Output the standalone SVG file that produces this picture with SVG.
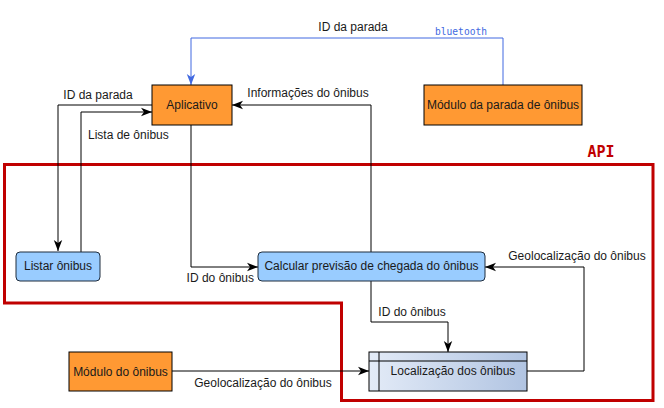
<svg xmlns="http://www.w3.org/2000/svg" width="664" height="408" viewBox="0 0 664 408">
<style>
text{font-family:"Liberation Sans",Arial,sans-serif;font-size:12px;fill:#1a1a1a}
.c{text-anchor:middle}
.e{text-anchor:end}
.org{fill:#FF9933;stroke:#000;stroke-width:1}
.blu{fill:#99CCFF;stroke:#1f2d3d;stroke-width:1}
.ln{fill:none;stroke:#000;stroke-width:1}
.bl{fill:none;stroke:#4169E1;stroke-width:1}
</style>
<defs>
<marker id="ak" markerUnits="userSpaceOnUse" markerWidth="12" markerHeight="10" viewBox="0 0 12 10" refX="11" refY="5" orient="auto">
<path d="M0,0.8 L11,5 L0,9.2 L3,5 Z" fill="#000"/>
</marker>
<marker id="ab" markerUnits="userSpaceOnUse" markerWidth="12" markerHeight="10" viewBox="0 0 12 10" refX="11" refY="5" orient="auto">
<path d="M0,0.8 L11,5 L0,9.2 L3,5 Z" fill="#4169E1"/>
</marker>
<linearGradient id="g" x1="0" y1="0" x2="1" y2="0">
<stop offset="0" stop-color="#e3ebf7"/>
<stop offset="1" stop-color="#b1c4e2"/>
</linearGradient>
</defs>

<g id="api">
<polygon points="4.5,164.5 653,164.5 653,400.5 341.5,400.5 341.5,303 4.5,303" fill="none" stroke="#C00000" stroke-width="3"/>
<text x="601" y="157" class="c" style="font-family:'DejaVu Sans Mono','Liberation Mono',monospace;font-size:15px;font-weight:bold;fill:#C00000">API</text>
</g>

<g id="connectors">
<path class="bl" d="M503,85 V38 H191 V85" marker-end="url(#ab)"/>
<path class="ln" d="M152,105 H58 V251" marker-end="url(#ak)"/>
<path class="ln" d="M81,252 V112 H152" marker-end="url(#ak)"/>
<path class="ln" d="M371,252 V105 H232" marker-end="url(#ak)"/>
<path class="ln" d="M191,125 V267 H258" marker-end="url(#ak)"/>
<path class="ln" d="M371,281 V322 H448 V352" marker-end="url(#ak)"/>
<path class="ln" d="M527,371 H584 V267 H485" marker-end="url(#ak)"/>
<path class="ln" d="M172,371 H369" marker-end="url(#ak)"/>
<text x="353" y="31" class="c">ID da parada</text>
<text x="461" y="35" class="c" style="font-family:'DejaVu Sans Mono','Liberation Mono',monospace;font-size:9.6px;fill:#4169E1">bluetooth</text>
<text x="98" y="99" class="c">ID da parada</text>
<text x="88" y="139">Lista de ônibus</text>
<text x="308" y="97" class="c">Informações do ônibus</text>
<text x="254" y="282" class="e">ID do ônibus</text>
<text x="577" y="260" class="c">Geolocalização do ônibus</text>
<text x="412" y="316" class="c">ID do ônibus</text>
<text x="263" y="387" class="c">Geolocalização do ônibus</text>
</g>

<g id="aplicativo">
<rect class="org" x="152" y="85" width="80" height="40"/>
<text x="192" y="109" class="c">Aplicativo</text>
</g>
<g id="modulo-parada">
<rect class="org" x="424" y="85" width="158" height="40"/>
<text x="503" y="109" class="c">Módulo da parada de ônibus</text>
</g>
<g id="listar">
<rect class="blu" x="16" y="252" width="84" height="29" rx="4"/>
<text x="58" y="270" class="c">Listar ônibus</text>
</g>
<g id="calcular">
<rect class="blu" x="258" y="252" width="227" height="29" rx="4"/>
<text x="371.5" y="270" class="c">Calcular previsão de chegada do ônibus</text>
</g>
<g id="modulo-onibus">
<rect class="org" x="69" y="352" width="103" height="39"/>
<text x="120.5" y="376" class="c">Módulo do ônibus</text>
</g>
<g id="localizacao">
<rect x="369" y="352" width="158" height="39" fill="url(#g)" stroke="#000" stroke-width="1"/>
<path d="M369,361 H527 M379,352 V391" fill="none" stroke="#000" stroke-width="1"/>
<text x="453" y="375" class="c">Localização dos ônibus</text>
</g>
</svg>
